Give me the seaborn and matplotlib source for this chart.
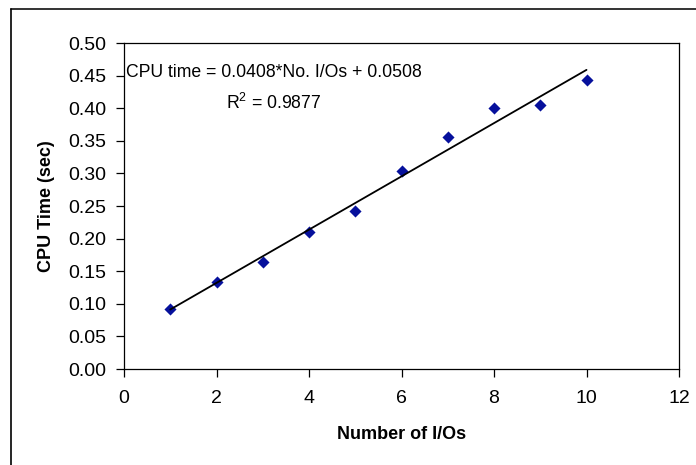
import numpy as np
import pandas as pd
import matplotlib
matplotlib.use("Agg")
import matplotlib.pyplot as plt
from matplotlib.lines import Line2D
import seaborn as sns

# Datos
num_ios = [1, 2, 3, 4, 5, 6, 7, 8, 9, 10]
cpu_time = [0.092, 0.1335, 0.1645, 0.210, 0.242, 0.3035, 0.3565, 0.400, 0.4045, 0.4435]
x_ticks = [0, 2, 4, 6, 8, 10, 12]
y_ticks = [0.00, 0.05, 0.10, 0.15, 0.20, 0.25, 0.30, 0.35, 0.40, 0.45, 0.50]

df = pd.DataFrame({"Number of I/Os": num_ios, "CPU Time (sec)": cpu_time})

sns.set_style("ticks")
plt.rcParams["font.family"] = ["Liberation Sans", "DejaVu Sans"]
plt.rcParams["mathtext.fontset"] = "custom"
plt.rcParams["mathtext.rm"] = "Liberation Sans"
plt.rcParams["text.color"] = "black"
plt.rcParams["axes.labelcolor"] = "black"

fig = plt.figure(figsize=(6.96, 4.65), dpi=100)
ax = fig.add_axes([124 / 696, 1 - 369 / 465, (679 - 124) / 696, (369 - 43) / 465])

# Puntos y recta de regresion
sns.regplot(data=df, x="Number of I/Os", y="CPU Time (sec)", ax=ax, ci=None,
            marker="D", truncate=True,
            scatter_kws={"s": 38, "color": "#06109c", "alpha": 1,
                         "linewidths": 0, "zorder": 2},
            line_kws={"color": "black", "linewidth": 1.3, "zorder": 3})

ax.set_xlim(0, 12)
ax.set_ylim(0, 0.5)
ax.set_xticks(x_ticks)
ax.set_yticks(y_ticks)
ax.set_yticklabels([f"{v:.2f}" for v in y_ticks])
ax.tick_params(axis="both", labelsize=14, length=6, width=0.9, color="black",
               labelcolor="black")
ax.tick_params(axis="y", pad=7)
ax.tick_params(axis="x", pad=9)

for s in ax.spines.values():
    s.set_visible(True)
    s.set_color("black")
    s.set_linewidth(0.9)

ax.set_xlabel("Number of I/Os", fontsize=13, fontweight="bold", labelpad=14)
ax.set_ylabel("CPU Time (sec)", fontsize=13, fontweight="bold", labelpad=9)

# Ecuacion de la recta
ax.text(3.23, 0.430, "CPU time = 0.0408*No. I/Os + 0.0508\nR$^2$ = 0.9877",
        ha="center", va="center", fontsize=12.7, linespacing=1.75,
        multialignment="center")

# Marco exterior del area del grafico
fig.add_artist(Line2D([11 / 696, 1.0], [1 - 9 / 465, 1 - 9 / 465],
                      color="#333333", linewidth=1.4, transform=fig.transFigure))
fig.add_artist(Line2D([11 / 696, 11 / 696], [0.0, 1 - 9 / 465],
                      color="black", linewidth=1.2, transform=fig.transFigure))

fig.savefig("out.png", dpi=100)
